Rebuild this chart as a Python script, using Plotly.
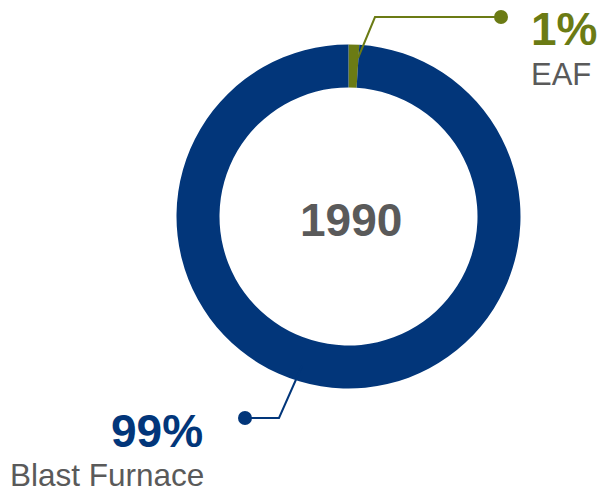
import plotly.graph_objects as go

# Steel production share by route, 1990
routes = ["EAF", "Blast Furnace"]
shares = [1, 99]
pct_labels = ["1%", "99%"]
year_label = "1990"

W, H = 601, 493
NAVY = "#02367a"
OLIVE = "#6b7b14"
GRAY = "#5a5a5a"
FONT = "Liberation Sans, Arial, sans-serif"

# donut geometry in pixels
cx, cy, r_out = 348.5, 216.5, 172

def px(x):
    return x / W

def py(y):
    return 1 - y / H

fig = go.Figure(go.Pie(
    labels=routes,
    values=shares,
    hole=0.75,
    sort=False,
    direction="clockwise",
    rotation=0,
    textinfo="none",
    marker=dict(colors=[OLIVE, NAVY], line=dict(width=0)),
    domain=dict(x=[px(cx - r_out), px(cx + r_out)],
                y=[py(cy + r_out), py(cy - r_out)]),
    showlegend=False,
    hoverinfo="label+percent",
))

# callout lines (elbow polylines) and end dots
callouts = [
    dict(pts=[(358, 58), (375, 17), (501, 17)], dot=(501, 17), color=OLIVE),
    dict(pts=[(302, 366), (279, 418), (245, 418)], dot=(245, 418), color=NAVY),
]
shapes = []
for c in callouts:
    path = "M " + " L ".join(f"{px(x)},{py(y)}" for x, y in c["pts"])
    shapes.append(dict(type="path", xref="paper", yref="paper", path=path,
                       line=dict(color=c["color"], width=2)))
    dx, dy = c["dot"]
    rr = 7
    shapes.append(dict(type="circle", xref="paper", yref="paper",
                       x0=px(dx - rr), x1=px(dx + rr), y0=py(dy + rr), y1=py(dy - rr),
                       fillcolor=c["color"], line=dict(width=0)))

annotations = [
    dict(text=f"<b>{year_label}</b>", x=px(351), y=py(220), xanchor="center", yanchor="middle",
         font=dict(size=46, color=GRAY, family=FONT)),
    dict(text=f"<b>{pct_labels[0]}</b>", x=px(529), y=py(29), xanchor="left", yanchor="middle",
         font=dict(size=46, color=OLIVE, family=FONT)),
    dict(text=routes[0], x=px(529), y=py(74), xanchor="left", yanchor="middle",
         font=dict(size=31, color=GRAY, family=FONT)),
    dict(text=f"<b>{pct_labels[1]}</b>", x=px(205), y=py(431), xanchor="right", yanchor="middle",
         font=dict(size=46, color=NAVY, family=FONT)),
    dict(text=routes[1], x=px(206), y=py(475), xanchor="right", yanchor="middle",
         font=dict(size=31.5, color=GRAY, family=FONT)),
]
for a in annotations:
    a.update(xref="paper", yref="paper", showarrow=False)

fig.update_layout(
    width=W, height=H,
    margin=dict(l=0, r=0, t=0, b=0),
    paper_bgcolor="white",
    plot_bgcolor="white",
    shapes=shapes,
    annotations=annotations,
)

fig.write_html("out.html")
